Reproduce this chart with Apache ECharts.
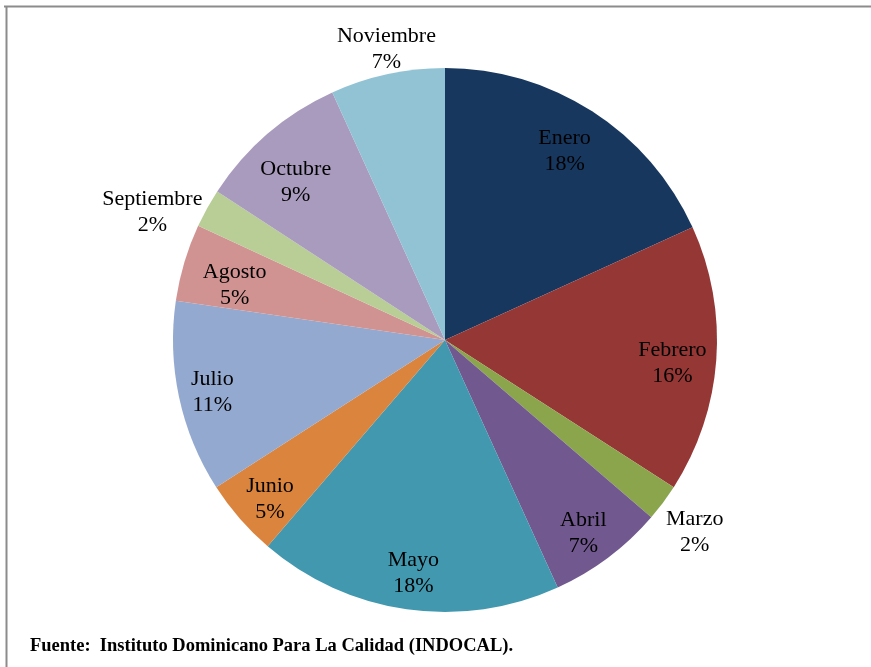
<!DOCTYPE html>
<html>
<head>
<meta charset="utf-8">
<script src="https://cdn.jsdelivr.net/npm/echarts@6/dist/echarts.min.js"></script>
<style>
html, body { margin: 0; padding: 0; background: #fff; }
#chart { width: 871px; height: 667px; }
</style>
</head>
<body>
<div id="chart"></div>
<script>
var meses = ['Enero', 'Febrero', 'Marzo', 'Abril', 'Mayo', 'Junio', 'Julio', 'Agosto', 'Septiembre', 'Octubre', 'Noviembre'];
var porcentajes = [18.2, 15.9, 2.2, 6.9, 18.1, 4.6, 11.4, 4.6, 2.3, 9.0, 6.8];
var colores = ['#17375E', '#953735', '#8BA54D', '#71588F', '#4198AF', '#DB843D', '#93A9CF', '#D19392', '#B9CD96', '#A99BBD', '#92C3D4'];
// etiquetas que van fuera del pastel
var fuera = ['Marzo', 'Septiembre', 'Noviembre'];

var fuente = 'Fuente:  Instituto Dominicano Para La Calidad (INDOCAL).';

var centro = [445, 340];
var radio = 272;

// pequeños ajustes de posicion de las etiquetas (como en Excel)
var ajuste = {
    Enero: [-6, 6], Febrero: [-4, 6], Marzo: [-2, 4], Abril: [-1, 8],
    Mayo: [1, 4], Junio: [0, 7], Julio: [-6, 3], Agosto: [12, 11],
    Septiembre: [-18, 24], Octubre: [2, 18], Noviembre: [8, 16]
};

var myChart = echarts.init(document.getElementById('chart'));

function etiqueta(p) {
    return p.name + '\n' + Math.round(p.percent) + '%';
}

var labelStyle = {
    color: '#000',
    fontFamily: 'Liberation Serif, Times New Roman, serif',
    fontSize: 22,
    lineHeight: 26,
    position: 'inside',
    formatter: etiqueta
};

var datosPie = meses.map(function (m, i) {
    return { name: m, value: porcentajes[i], itemStyle: { color: colores[i] } };
});
var datosDentro = meses.map(function (m, i) {
    return { name: m, value: porcentajes[i], label: { show: fuera.indexOf(m) < 0, offset: ajuste[m] } };
});
var datosFuera = meses.map(function (m, i) {
    return { name: m, value: porcentajes[i], label: { show: fuera.indexOf(m) >= 0, offset: ajuste[m] } };
});

var hueco = { color: 'rgba(0,0,0,0)' };

var option = {
    animation: false,
    graphic: [
        { type: 'line', shape: { x1: 4, y1: 6.5, x2: 871, y2: 6.5 }, style: { stroke: '#8c8c8c', lineWidth: 2 } },
        { type: 'line', shape: { x1: 6.5, y1: 6, x2: 6.5, y2: 667 }, style: { stroke: '#8c8c8c', lineWidth: 2 } },
        {
            type: 'text', left: 30, top: 637,
            style: { text: fuente, fill: '#000', font: 'bold 18.5px "Liberation Serif", serif' }
        }
    ],
    series: [{
        name: 'pie',
        type: 'pie',
        center: centro,
        radius: [0, radio],
        startAngle: 90,
        silent: true,
        label: { show: false },
        labelLine: { show: false },
        data: datosPie
    }, {
        name: 'dentro',
        type: 'pie',
        center: centro,
        radius: [186, radio],
        startAngle: 90,
        silent: true,
        itemStyle: hueco,
        label: labelStyle,
        labelLine: { show: false },
        data: datosDentro
    }, {
        name: 'fuera',
        type: 'pie',
        center: centro,
        radius: [290, 332],
        startAngle: 90,
        silent: true,
        itemStyle: hueco,
        label: labelStyle,
        labelLine: { show: false },
        data: datosFuera
    }]
};
myChart.setOption(option);
</script>
</body>
</html>
